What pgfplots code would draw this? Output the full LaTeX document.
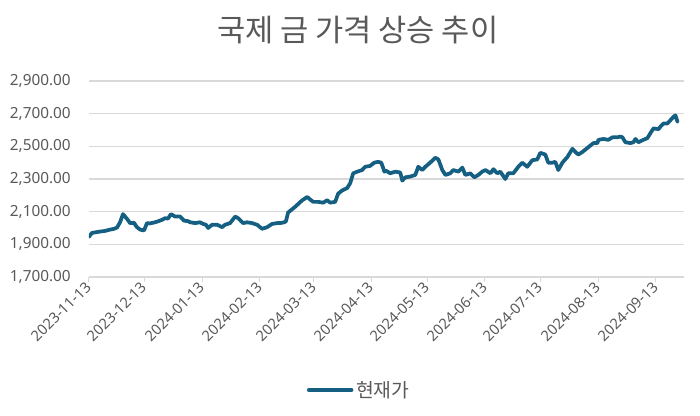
\documentclass[border=0pt]{standalone}
\usepackage{pgfplots}
\pgfplotsset{compat=1.18}
\usepackage{fontspec}
\setmainfont{Noto Sans}
\newfontfamily\kr{Noto Sans CJK KR}
\definecolor{linec}{HTML}{156082}
\definecolor{txt}{HTML}{595959}
\definecolor{grid}{HTML}{D9D9D9}
\begin{document}
\begin{tikzpicture}
\useasboundingbox (0,0) rectangle (525pt,311.25pt);
\begin{axis}[
  at={(66.6pt,103.5pt)}, anchor=south west,
  scale only axis, width=446.25pt, height=147pt,
  xmin=0, xmax=320, ymin=1700, ymax=2900,
  ytick={1700,1900,2100,2300,2500,2700,2900},
  xtick={0,30,61,92,121,152,182,213,243,274,305},
  xticklabels={2023-11-13,2023-12-13,2024-01-13,2024-02-13,2024-03-13,2024-04-13,2024-05-13,2024-06-13,2024-07-13,2024-08-13,2024-09-13},
  axis x line*=bottom, axis y line*=left,
  y axis line style={draw=none}, ytick style={draw=none},
  x axis line style={draw=grid, line width=0.8pt, -},
  xtick style={draw=grid, line width=0.8pt},
  tick align=outside, major tick length=4pt,
  ymajorgrids, grid style={draw=grid, line width=0.8pt},
  yticklabel style={font=\fontsize{11.5}{13}\selectfont, text=txt, xshift=-6pt},
  xticklabel style={font=\fontsize{11}{13}\selectfont, text=txt, rotate=45, anchor=east, xshift=2pt, yshift=-1pt},
  /pgf/number format/.cd, fixed, fixed zerofill, precision=2, 1000 sep={,}, assume math mode=true,
  /pgfplots/.cd,
  title={\kr 국제 금 가격 상승 추이},
  title style={at={(0.452,1.22)}, anchor=center, font=\fontsize{23}{27}\selectfont, text=txt},
  legend style={at={(0.455,-0.577)}, anchor=center, draw=none, fill=none, font=\kr\fontsize{14.5}{17}\selectfont, text=txt, inner sep=0pt},
  legend image code/.code={\draw[#1, line width=2.8pt] (0pt,0pt) -- (32pt,0pt);},
]
\addplot[color=linec, line width=2.8pt, line join=round, line cap=round] coordinates {
(0,1945) (1.7,1970) (4.4,1975) (6,1978) (8.7,1982) (11.4,1990) (13.6,1995) (15.2,2003)
(16.8,2035) (18.4,2085) (19.5,2070) (20.6,2055) (22.2,2030) (24.3,2032) (25.9,2005) (27.6,1990)
(29.7,1985) (31.3,2030) (32.9,2028) (35.6,2035) (37,2040) (39.4,2050) (41,2060) (42.6,2058)
(44.2,2085) (46.4,2070) (49.1,2070) (51.2,2045) (53.4,2042) (54.5,2035) (57.2,2030) (59.8,2035)
(61.5,2025) (63,2020) (64.2,2000) (66.3,2020) (69,2020) (71.7,2005) (73.3,2020) (76,2030)
(78.7,2070) (80.3,2060) (81.4,2048) (83,2030) (85.1,2035) (87.8,2030) (90.5,2020) (93.2,1995)
(95.9,2005) (98.6,2025) (101.3,2030) (102.9,2030) (105,2035) (106,2040) (107.2,2095) (111,2130)
(114.8,2170) (117.5,2190) (119,2175) (120.7,2160) (123.4,2160) (126,2155) (128.2,2170) (129.8,2155)
(132.5,2160) (134.1,2210) (136.3,2230) (139,2245) (140.6,2275) (142.2,2335) (144.4,2345) (147,2355)
(148.7,2375) (151.3,2380) (153.5,2400) (155.6,2405) (157.3,2400) (159,2345) (160,2350) (162.1,2335)
(164.8,2345) (167.5,2340) (168.6,2290) (170.2,2310) (172.9,2315) (175.6,2325) (177.2,2375) (179.3,2355)
(181,2375) (183.6,2400) (186.3,2430) (188,2420) (190.1,2355) (191.8,2325) (194.4,2335) (196,2355)
(198.8,2345) (200.9,2370) (202.5,2325) (205.2,2335) (207.3,2310) (209.5,2325) (211.6,2345) (213.3,2355)
(216,2335) (217.6,2360) (219.7,2335) (221.3,2345) (224,2300) (225.6,2335) (228.3,2335) (231,2375)
(233.1,2400) (235.8,2375) (238.5,2415) (241.2,2420) (242.8,2460) (245.5,2450) (247.1,2400) (249.3,2400)
(250.9,2405) (252.5,2355) (254.7,2400) (257.4,2435) (260.1,2485) (261.7,2465) (263.3,2450) (265.4,2465)
(266.5,2475) (268.7,2495) (271.4,2520) (273.5,2520) (274.1,2540) (276.7,2545) (279.4,2540) (281.6,2555)
(284.3,2555) (285.9,2560) (287,2555) (288.6,2525) (291.3,2520) (292.9,2525) (294,2545) (295.6,2525)
(298.3,2540) (300.4,2550) (302,2580) (303.7,2610) (306.4,2605) (307.4,2620) (309.1,2640) (311.2,2640)
(312.8,2660) (314.4,2680) (315.5,2690) (316.6,2650)
};
\addlegendentry{현재가}
\end{axis}
\end{tikzpicture}
\end{document}
